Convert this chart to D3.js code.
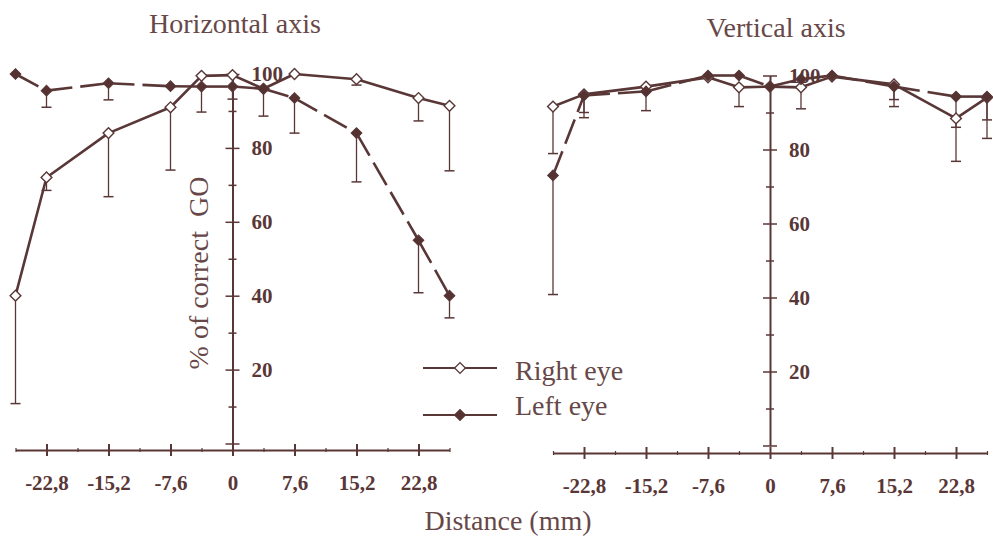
<!DOCTYPE html>
<html lang="en">
<head>
<meta charset="utf-8">
<title>Horizontal and vertical axis</title>
<script src="https://cdn.jsdelivr.net/npm/d3@7/dist/d3.min.js"></script>
<style>
  body { margin: 0; background: #fff; }
  text { font-family: "Liberation Serif", "DejaVu Serif", serif; fill: #674747; }
  .axis text { font-weight: bold; font-size: 21px; fill: #5a3737; }
  .axis line, .axis path { stroke: #5a3737; stroke-width: 2; }
</style>
</head>
<body>
<script>
// distances (mm) where each point was measured
var distances = [-26.6, -22.8, -15.2, -7.6, -3.8, 0, 3.8, 7.6, 15.2, 22.8, 26.6];
var xMajorTicks = [-22.8, -15.2, -7.6, 0, 7.6, 15.2, 22.8];
var xMajorLabels = ["-22,8", "-15,2", "-7,6", "0", "7,6", "15,2", "22,8"];
var xMinorTicks = [-26.6, -19, -11.4, -3.8, 3.8, 11.4, 19, 26.6];
var yTicks = [0, 10, 20, 30, 40, 50, 60, 70, 80, 90, 100];

// horizontal axis panel: % correct and lower end of error bar (null = none)
var horizRight    = [40, 72, 84, 91, 99.5, 99.7, 96, 100, 98.6, 93.5, 91.4];
var horizRightLow = [10.8, 68.5, 66.8, 74, null, null, null, null, 97, 87.3, 73.8];
var horizLeft     = [100, 95.5, 97.5, 96.7, 96.6, 96.6, 96, 93.5, 84, 55, 40];
var horizLeftLow  = [null, 91, 93, null, 89.7, 93.2, 88.6, 84, 70.8, 40.8, 34];

// vertical axis panel
var vertRight    = [91.6, 94.9, 97, 99.5, 96.8, 97, 96.8, 99.7, 97.6, 88.4, 94];
var vertRightLow = [78.9, 88.6, 90.5, null, 91.6, null, 91, null, 91.6, 76.8, 83];
var vertLeft     = [73, 94.6, 95.7, 100, 100, 97, 99, 100, 97, 94.3, 94.3];
var vertLeftLow  = [40.8, 90, null, null, null, null, null, null, 93.5, 86, 88];

var w = 993, h = 547;
var ink = "#5a3737";

var svg = d3.select("body").append("svg")
    .attr("width", w)
    .attr("height", h);

var panels = [
  { title: "Horizontal axis", titleX: 235, titleY: 33,
    xr: [15.5, 449.5], yr: [443.5, 74], axisY: 450,
    right: horizRight, rightLow: horizRightLow, left: horizLeft, leftLow: horizLeftLow },
  { title: "Vertical axis", titleX: 776, titleY: 37,
    xr: [553, 987], yr: [445.5, 75.5], axisY: 453,
    right: vertRight, rightLow: vertRightLow, left: vertLeft, leftLow: vertLeftLow }
];

var diamond = d3.symbol().type(d3.symbolSquare).size(58);

panels.forEach(function(p) {
  var x = d3.scaleLinear().domain([-26.6, 26.6]).range(p.xr);
  var y = d3.scaleLinear().domain([0, 100]).range(p.yr);
  var g = svg.append("g");

  // x axis, major ticks crossing the line
  g.append("g")
      .attr("class", "axis")
      .attr("transform", "translate(0," + p.axisY + ")")
      .call(d3.axisBottom(x).tickValues(xMajorTicks).tickSize(6).tickSizeOuter(0).tickPadding(19)
              .tickFormat(function(d, i) { return xMajorLabels[i]; }))
      .call(function(a) {
        a.attr("font-family", null).attr("font-size", null);
        a.selectAll(".tick line").attr("y1", -6).attr("y2", 6);
      });

  g.append("g")
      .attr("class", "axis")
      .attr("transform", "translate(0," + p.axisY + ")")
      .call(d3.axisBottom(x).tickValues(xMinorTicks).tickSize(3).tickSizeOuter(0).tickFormat(""))
      .call(function(a) {
        a.select(".domain").remove();
        a.selectAll(".tick line").attr("y1", -2).attr("y2", 2).style("stroke-width", 1.2);
      });

  // y axis sits at distance 0, labels on its right
  g.append("g")
      .attr("class", "axis")
      .attr("transform", "translate(" + x(0) + ",0)")
      .call(d3.axisRight(y).tickValues(yTicks).tickSize(7).tickSizeOuter(0).tickPadding(12)
              .tickFormat(function(d) { return d > 0 && d % 20 === 0 ? d : ""; }))
      .call(function(a) {
        a.attr("font-family", null).attr("font-size", null);
        a.selectAll(".tick line")
            .attr("x1", function(d) { return d % 20 === 0 ? -7 : -4; })
            .attr("x2", function(d) { return d % 20 === 0 ? 7 : 4; })
            .style("stroke-width", 1.5);
      });

  // error bars (downward only, with caps)
  [[p.right, p.rightLow], [p.left, p.leftLow]].forEach(function(s) {
    var bars = distances.map(function(d, i) { return { d: d, v: s[0][i], lo: s[1][i] }; })
        .filter(function(b) { return b.lo !== null; });
    g.selectAll(null).data(bars).enter().append("line")
        .attr("x1", function(b) { return x(b.d); }).attr("x2", function(b) { return x(b.d); })
        .attr("y1", function(b) { return y(b.v); }).attr("y2", function(b) { return y(b.lo); })
        .attr("stroke", ink).attr("stroke-width", 1.3);
    g.selectAll(null).data(bars).enter().append("line")
        .attr("x1", function(b) { return x(b.d) - 5; }).attr("x2", function(b) { return x(b.d) + 5; })
        .attr("y1", function(b) { return y(b.lo); }).attr("y2", function(b) { return y(b.lo); })
        .attr("stroke", ink).attr("stroke-width", 1.5);
  });

  var line = d3.line().x(function(d) { return x(d[0]); }).y(function(d) { return y(d[1]); });
  var rightPts = d3.zip(distances, p.right);
  var leftPts = d3.zip(distances, p.left);

  // left eye: long dashes, restarted on every segment
  g.selectAll(null).data(d3.pairs(leftPts)).enter().append("path")
      .attr("d", function(s) { return line(s); })
      .attr("fill", "none").attr("stroke", ink).attr("stroke-width", 2.6)
      .attr("stroke-dasharray", "26,8");

  g.append("path")
      .attr("d", line(rightPts))
      .attr("fill", "none").attr("stroke", ink).attr("stroke-width", 2.6)
      .attr("stroke-linejoin", "round");

  g.selectAll(null).data(rightPts).enter().append("path")
      .attr("d", diamond)
      .attr("transform", function(d) { return "translate(" + x(d[0]) + "," + y(d[1]) + ") rotate(45)"; })
      .attr("fill", "#fff").attr("stroke", ink).attr("stroke-width", 1.4);

  g.selectAll(null).data(leftPts).enter().append("path")
      .attr("d", diamond)
      .attr("transform", function(d) { return "translate(" + x(d[0]) + "," + y(d[1]) + ") rotate(45)"; })
      .attr("fill", "#553232").attr("stroke", ink).attr("stroke-width", 1);

  svg.append("text")
      .attr("x", p.titleX).attr("y", p.titleY)
      .attr("text-anchor", "middle")
      .style("font-size", "28px")
      .text(p.title);
});

svg.append("text")
    .attr("transform", "translate(208,273) rotate(-90)")
    .attr("text-anchor", "middle")
    .style("font-size", "28px")
    .style("white-space", "pre")
    .text("% of correct  GO");

svg.append("text")
    .attr("x", 508).attr("y", 530)
    .attr("text-anchor", "middle")
    .style("font-size", "28px")
    .text("Distance (mm)");

// legend
var legend = [
  { name: "Right eye", fill: "#fff", ly: 368, ty: 380 },
  { name: "Left eye", fill: "#553232", ly: 415, ty: 415 }
];
legend.forEach(function(l) {
  svg.append("line")
      .attr("x1", 423).attr("x2", 497).attr("y1", l.ly).attr("y2", l.ly)
      .attr("stroke", ink).attr("stroke-width", 2.2);
  svg.append("path")
      .attr("d", diamond)
      .attr("transform", "translate(460," + l.ly + ") rotate(45)")
      .attr("fill", l.fill).attr("stroke", ink).attr("stroke-width", 1.3);
  svg.append("text")
      .attr("x", 515).attr("y", l.ty)
      .style("font-size", "28px")
      .text(l.name);
});
</script>
</body>
</html>
